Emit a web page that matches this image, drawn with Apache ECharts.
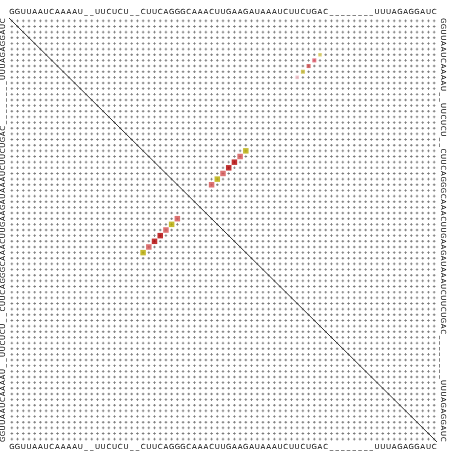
<!DOCTYPE html>
<html><head><meta charset="utf-8">
<script src="https://cdn.jsdelivr.net/npm/echarts@6/dist/echarts.min.js"></script>
<style>html,body{margin:0;padding:0;background:#fff}#c{width:452px;height:451px}</style>
</head><body><div id="c"></div>
<script>
// consensus sequence (one character per column / row)
const sequence = "GGUUAAUCAAAAU__UUCUCU__CUUCAGGGCAAACUUGAAGAUAAAUCUUCUGAC________UUUAGAGGAUC".split('');
// strong helix (1-based positions)
const helixI = [24, 25, 26, 27, 28, 29, 30];
const helixJ = [42, 41, 40, 39, 38, 37, 36];
const helixColor = ['#b8ab00', '#d65252', '#b30000', '#b30000', '#d65252', '#b8ab00', '#d65252'];
// weak pairs (upper triangle only)
const weakI = [7, 8, 9, 10, 11];
const weakJ = [55, 54, 53, 52, 51];
const weakColor = ['#dcd060', '#e05868', '#d04c4c', '#c9bd3a', '#f0bcc6'];
const weakSize = [3.5, 4, 4, 4, 3.5];

const N = sequence.length;
const cats = sequence.map((c, k) => String(k));
const chart = echarts.init(document.getElementById('c'), null, {renderer: 'canvas'});

const dots = [];
for (let x = 0; x < N; x++) for (let y = 0; y < N; y++) dots.push([x, y]);

const pairData = [];
helixI.forEach((i, k) => {
  pairData.push({value: [helixJ[k] - 1, i - 1], itemStyle: {color: helixColor[k]}});
  pairData.push({value: [i - 1, helixJ[k] - 1], itemStyle: {color: helixColor[k]}});
});
const weakData = weakI.map((i, k) => ({value: [weakJ[k] - 1, i - 1], symbolSize: weakSize[k], itemStyle: {color: weakColor[k]}}));

const lab = {fontSize: 7, color: '#000', fontFamily: 'DejaVu Sans', interval: 0, margin: 2};
const grid = {left: 8, top: 18, width: 429, height: 425};
chart.setOption({
  animation: false,
  grid: grid,
  xAxis: [
    {type: 'category', data: cats, position: 'bottom', axisLine: {show: false}, axisTick: {show: false},
     axisLabel: Object.assign({}, lab, {formatter: v => sequence[+v]})},
    {type: 'category', data: cats, position: 'top', axisLine: {show: false}, axisTick: {show: false},
     axisLabel: Object.assign({}, lab, {formatter: v => sequence[+v]})},
    {type: 'value', min: 0, max: N, show: false}
  ],
  yAxis: [
    {type: 'category', data: cats, inverse: true, position: 'left', axisLine: {show: false}, axisTick: {show: false},
     axisLabel: Object.assign({}, lab, {rotate: 90, formatter: v => sequence[N - 1 - v]})},
    {type: 'category', data: cats, inverse: true, position: 'right', axisLine: {show: false}, axisTick: {show: false},
     axisLabel: Object.assign({}, lab, {rotate: -90, formatter: v => sequence[+v]})},
    {type: 'value', min: 0, max: N, inverse: true, show: false}
  ],
  series: [
    {type: 'scatter', xAxisIndex: 0, yAxisIndex: 0, data: dots, silent: true,
     symbol: 'path://M1,0H2V3H1Z M0,1H3V2H0Z', symbolSize: 2.6, itemStyle: {color: '#5a5a5a'}},
    {type: 'line', xAxisIndex: 2, yAxisIndex: 2, data: [[0, 0], [N, N]], symbol: 'none', silent: true,
     lineStyle: {color: '#333', width: 1}},
    {type: 'scatter', xAxisIndex: 0, yAxisIndex: 0, data: pairData, symbol: 'rect', symbolSize: 5.5},
    {type: 'scatter', xAxisIndex: 0, yAxisIndex: 0, data: weakData, symbol: 'rect'}
  ]
});
</script></body></html>
